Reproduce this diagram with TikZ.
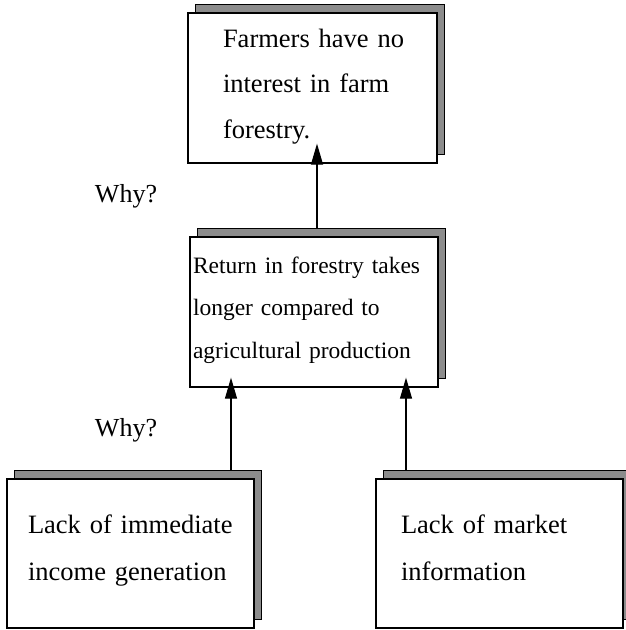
\documentclass[tikz,border=0pt]{standalone}
\usepackage{fontspec}
\setmainfont{Liberation Serif}
\usetikzlibrary{shadows,arrows.meta}
\newcommand{\tstr}[1]{\rule{0pt}{#1}}
\newcommand{\bstr}[1]{\rule[-#1]{0pt}{#1}}
\begin{document}
\begin{tikzpicture}[x=1pt,y=-1pt,
  card/.style={draw=black, line width=1.3pt, fill=white, align=left,
    inner ysep=0pt, anchor=center,
    copy shadow={shadow xshift=7.5pt, shadow yshift=8.5pt, fill=black!45, draw=black, line width=1.3pt}},
  arr/.style={line width=1.2pt, -{Triangle[length=21pt,width=12pt]}},
  why/.style={font=\fontsize{26}{30}\selectfont}]
\useasboundingbox (0,0) rectangle (625,630);
\fill[white] (0,0) rectangle (625,630);
\node[card, minimum width=249pt, minimum height=150pt, inner xsep=35pt, text width=179pt,
  font=\fontsize{26.5}{45.5}\selectfont] (tb) at (312.5,88)
  {\tstr{20pt}\mbox{Farmers have no}\\\mbox{interest in farm}\\\mbox{forestry.}\bstr{11pt}};
\node[card, minimum width=248pt, minimum height=150pt, inner xsep=3pt, text width=242pt,
  font=\fontsize{23.5}{42.5}\selectfont] (mb) at (314,312)
  {\tstr{18pt}\mbox{Return in forestry takes}\\\mbox{longer compared to}\\\mbox{agricultural production}\bstr{11pt}};
\node[card, minimum width=247pt, minimum height=149pt, inner xsep=21pt, text width=205pt,
  font=\fontsize{26.5}{47}\selectfont] (lb) at (130.5,553.5)
  {\tstr{20pt}\mbox{Lack of immediate}\\\mbox{income generation}\bstr{14pt}};
\node[card, minimum width=247pt, minimum height=149pt, inner xsep=25pt, text width=197pt,
  font=\fontsize{26.5}{47}\selectfont] (rb) at (499.5,553.5)
  {\tstr{20pt}\mbox{Lack of market}\\\mbox{information}\bstr{14pt}};
\node[why] (w1) at (126,196.5) {Why?};
\node[why] (w2) at (126,430) {Why?};
\draw[arr] ([xshift=3pt,yshift=8pt]mb.north) -- ([xshift=4.5pt,yshift=20pt]tb.south);
\draw[arr] ([xshift=100.5pt,yshift=8pt]lb.north) -- ([xshift=-83pt,yshift=10pt]mb.south);
\draw[arr] ([xshift=-93.5pt,yshift=8pt]rb.north) -- ([xshift=92pt,yshift=10pt]mb.south);
\end{tikzpicture}
\end{document}
